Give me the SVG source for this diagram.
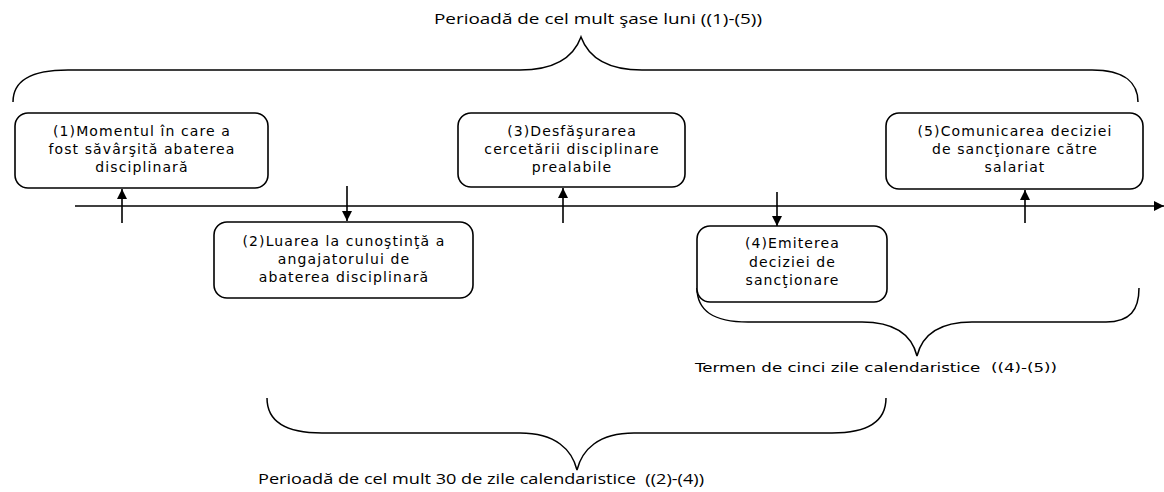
<svg xmlns="http://www.w3.org/2000/svg" width="1164" height="492" viewBox="0 0 1164 492">
<style>
.box{fill:#fff;stroke:#000;stroke-width:1.6}
.bt{font-family:"DejaVu Sans",Verdana,sans-serif;font-size:14px;letter-spacing:1.1px;fill:#000;text-anchor:middle}
.brace{fill:none;stroke:#000;stroke-width:1.5}
.line{stroke:#000;stroke-width:1.6;fill:none}
.lbl{font-family:"Open Sans","Liberation Sans",sans-serif;font-size:14px;fill:#000;white-space:pre}
.lblv{font-family:"DejaVu Sans",Verdana,sans-serif;font-size:13px;fill:#000;white-space:pre}
</style>
<defs>
<marker id="ah" viewBox="0 0 10 10" refX="10" refY="5" markerWidth="10" markerHeight="10" markerUnits="userSpaceOnUse" orient="auto">
<path d="M0,0 L10,5 L0,10 z" fill="#000"/>
</marker>
</defs>
<g id="braces">
<path class="brace" d="M13,102 C13,82 28,70 68,70 L520,70 C556,70 574,56 581,37 C588,56 606,70 642,70 L1092,70 C1126,70 1138,84 1138,102"/>
<path class="brace" d="M697,288 C697,310 712,322 748,322 L862,322 C896,322 912,336 917,356 C922,336 938,322 972,322 L1106,322 C1130,322 1139,310 1139,288"/>
<path class="brace" d="M267,398 C267,421 285,433 322,433 L520,433 C556,433 572,450 577,470 C582,450 598,433 634,433 L832,433 C868,433 886,421 886,398"/>
</g>
<g id="labels">
<text class="lbl" x="434" y="24" textLength="328" lengthAdjust="spacingAndGlyphs">Perioadă de cel mult şase luni ((1)-(5))</text>
<text class="lblv" x="695" y="372" textLength="362" lengthAdjust="spacingAndGlyphs">Termen de cinci zile calendaristice  ((4)-(5))</text>
<text class="lbl" x="258" y="484" textLength="446" lengthAdjust="spacingAndGlyphs">Perioadă de cel mult 30 de zile calendaristice  ((2)-(4))</text>
</g>
<g id="connectors">
<line class="line" x1="75" y1="206" x2="1164" y2="206" marker-end="url(#ah)"/>
<line class="line" x1="122" y1="223" x2="122" y2="189" marker-end="url(#ah)"/>
<line class="line" x1="347" y1="186" x2="347" y2="221" marker-end="url(#ah)"/>
<line class="line" x1="563" y1="223" x2="563" y2="188" marker-end="url(#ah)"/>
<line class="line" x1="777" y1="192" x2="777" y2="226" marker-end="url(#ah)"/>
<line class="line" x1="1025" y1="223" x2="1025" y2="190" marker-end="url(#ah)"/>
</g>
<g id="node1">
<rect class="box" x="15" y="113" width="253" height="75" rx="13"/>
<text class="bt" x="142" y="136">(1)Momentul în care a</text>
<text class="bt" x="142" y="154">fost săvârşită abaterea</text>
<text class="bt" x="142" y="172">disciplinară</text>
</g>
<g id="node2">
<rect class="box" x="214" y="222" width="259" height="76" rx="13"/>
<text class="bt" x="344" y="246">(2)Luarea la cunoştinţă a</text>
<text class="bt" x="344" y="264">angajatorului de</text>
<text class="bt" x="344" y="282">abaterea disciplinară</text>
</g>
<g id="node3">
<rect class="box" x="458" y="113" width="227" height="74" rx="13"/>
<text class="bt" x="572" y="136">(3)Desfăşurarea</text>
<text class="bt" x="572" y="154">cercetării disciplinare</text>
<text class="bt" x="572" y="172">prealabile</text>
</g>
<g id="node4">
<rect class="box" x="697" y="226" width="190" height="76" rx="13"/>
<text class="bt" x="792.5" y="248">(4)Emiterea</text>
<text class="bt" x="792.5" y="267">deciziei de</text>
<text class="bt" x="792.5" y="285">sancţionare</text>
</g>
<g id="node5">
<rect class="box" x="886" y="113" width="257" height="76" rx="13"/>
<text class="bt" x="1015" y="136">(5)Comunicarea deciziei</text>
<text class="bt" x="1015" y="154">de sancţionare către</text>
<text class="bt" x="1015" y="172">salariat</text>
</g>
</svg>
